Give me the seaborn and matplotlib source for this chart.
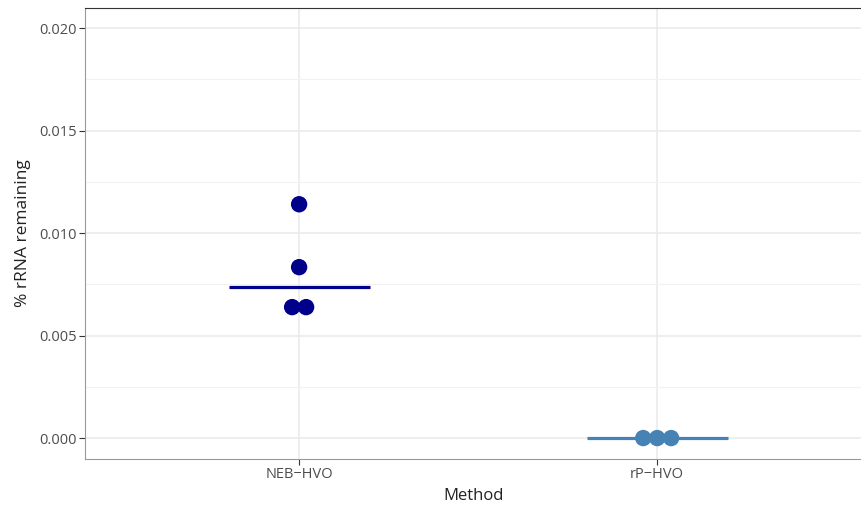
import numpy as np
import pandas as pd
import matplotlib.pyplot as plt
import seaborn as sns

# data
methods = ["NEB\u2212HVO", "rP\u2212HVO"]
neb_values = [0.01141, 0.00834, 0.00639, 0.00639]
rp_values = [0.0, 0.0, 0.0]
colors = ["#00008B", "#4682B4"]

df = pd.DataFrame({
    "Method": [methods[0]] * len(neb_values) + [methods[1]] * len(rp_values),
    "value": neb_values + rp_values,
})

sns.set_style("whitegrid")
plt.rcParams['font.family'] = ['Open Sans', 'DejaVu Sans']

fig = plt.figure(figsize=(8.62, 5.08), dpi=100)
ax = fig.add_axes([0.0986, 0.0965, 0.9014, 0.8875])

sns.stripplot(data=df, x="Method", y="value", hue="Method", palette=colors,
              order=methods, size=11.8, jitter=False, legend=False, ax=ax, zorder=3)

# spread tied values side by side, centred on the category (dotplot style)
step = 0.039
for coll in ax.collections:
    offs = coll.get_offsets()
    if len(offs) == 0:
        continue
    offs = np.array(offs)
    for yv in np.unique(offs[:, 1]):
        idx = np.where(offs[:, 1] == yv)[0]
        n = len(idx)
        offs[idx, 0] = offs[idx, 0] + (np.arange(n) - (n - 1) / 2) * step
    coll.set_offsets(offs)

# median line per group
medians = df.groupby("Method")["value"].median()
for i, m in enumerate(methods):
    ax.hlines(medians[m], i - 0.197, i + 0.197, color=colors[i], lw=2.3, zorder=2)

ax.set_xlim(-0.598, 1.572)
ax.set_ylim(-0.00102, 0.02098)
ax.set_yticks([0.0, 0.005, 0.01, 0.015, 0.02])
ax.set_yticklabels(["0.000", "0.005", "0.010", "0.015", "0.020"])
ax.set_yticks([0.0025, 0.0075, 0.0125, 0.0175], minor=True)
ax.grid(True, which="major", color="#ebebeb", lw=1.2)
ax.grid(True, which="minor", axis="y", color="#f2f2f2", lw=0.8)
ax.set_axisbelow(True)

for s in ax.spines.values():
    s.set_color("#333333")
    s.set_linewidth(0.8)
ax.spines["left"].set_color("#999999")
ax.spines["bottom"].set_color("#999999")
ax.spines["right"].set_visible(False)

ax.tick_params(axis="both", which="major", length=4, color="#333333",
               labelsize=10.5, labelcolor="#4d4d4d", pad=2, left=True, bottom=True)
ax.tick_params(axis="y", which="minor", length=0)
ax.set_xlabel("Method", fontsize=12, color="#222222", labelpad=4)
ax.set_ylabel("% rRNA remaining", fontsize=12.5, color="#222222", labelpad=6)

fig.savefig("out.png", dpi=100)
